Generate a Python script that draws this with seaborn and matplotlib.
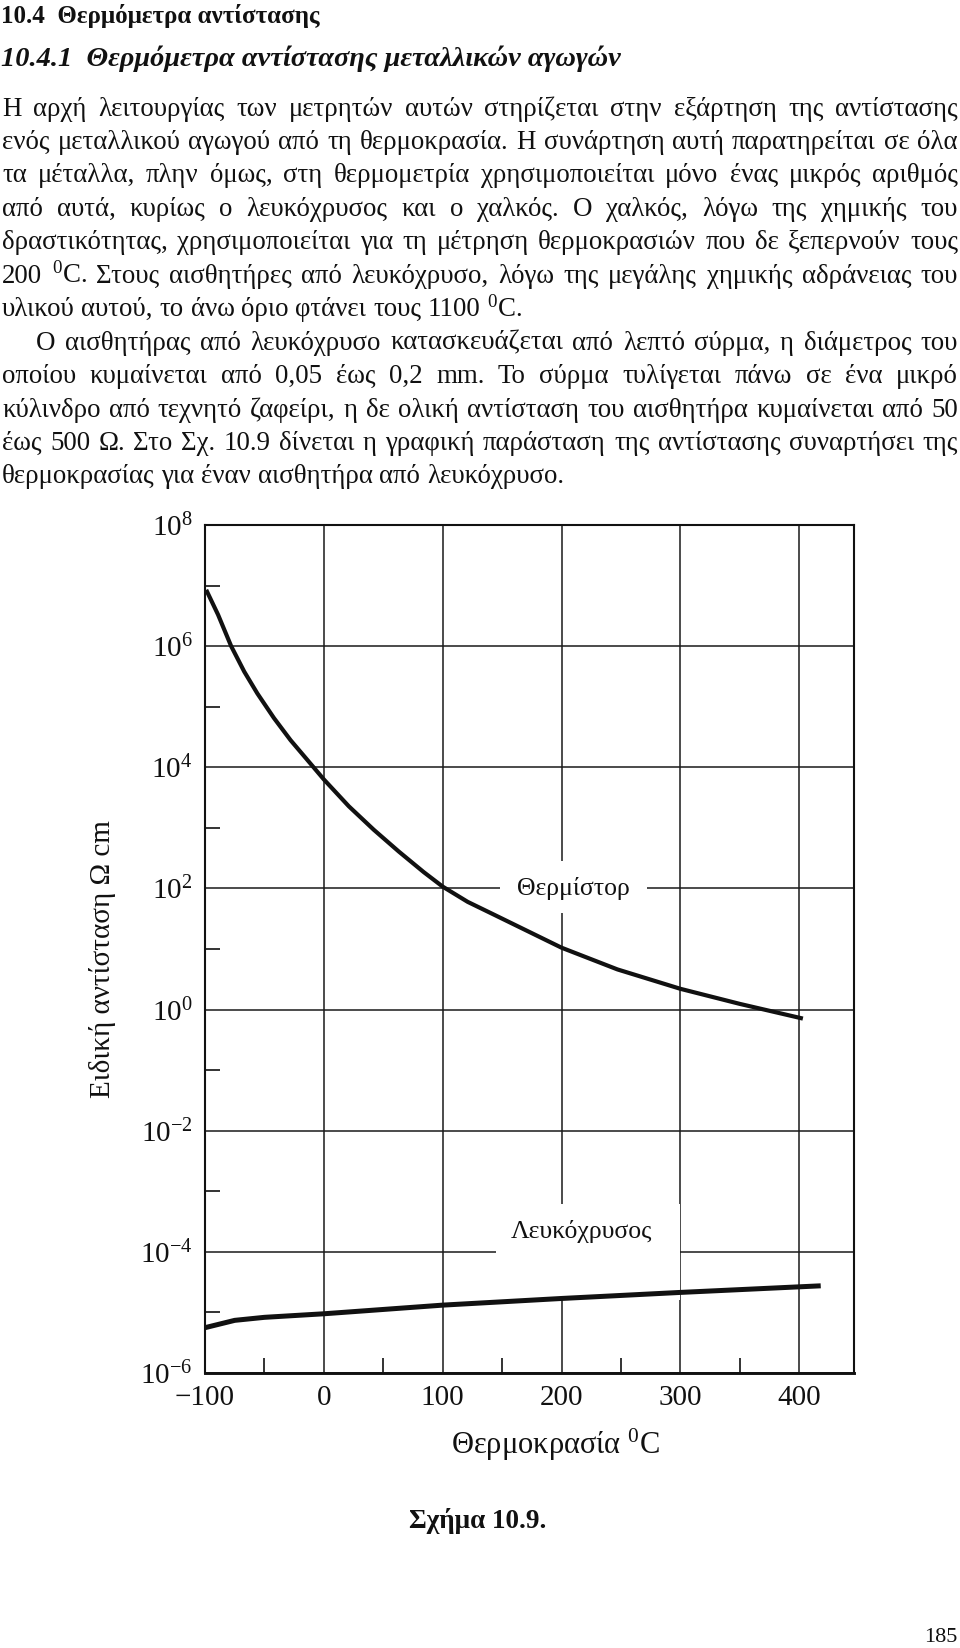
import numpy as np
import pandas as pd
import matplotlib
matplotlib.use("Agg")
import matplotlib.pyplot as plt
import seaborn as sns
from matplotlib.ticker import FixedLocator, NullFormatter, FixedFormatter
from matplotlib.patches import Rectangle

# ---------------- data ----------------
thermistor_temp = [-99, -89, -78, -67, -56, -42, -28, -14, 0, 21, 42, 63, 84, 100,
                   121, 143, 200, 247, 300, 350, 403]
thermistor_rho = [8.5e6, 3.3e6, 1.0e6, 3.8e5, 1.66e5, 6.5e4, 2.8e4, 1.33e4, 6.3e3, 2.27e3,
                  930, 407, 186, 107, 60, 37, 10.5, 4.6, 2.2, 1.24, 0.71]

platinum_temp = [-100, -75, -50, 0, 100, 200, 300, 418]
platinum_rho = [5.6e-6, 7.4e-6, 8.3e-6, 9.5e-6, 1.32e-5, 1.7e-5, 2.14e-5, 2.75e-5]

x_ticks = [-100, 0, 100, 200, 300, 400]
x_tick_labels = ["\u2212100", "0", "100", "200", "300", "400"]
x_minor = [-50, 50, 150, 250, 350]
y_exponents = [8, 6, 4, 2, 0, -2, -4, -6]
y_minor_exponents = [7, 5, 3, 1, -1, -3, -5]

heading1 = "10.4  Θερμόμετρα αντίστασης"
heading2 = "10.4.1  Θερμόμετρα αντίστασης μεταλλικών αγωγών"
body_lines = [
    ("Η αρχή λειτουργίας των μετρητών αυτών στηρίζεται στην εξάρτηση της αντίστασης", True, False),
    ("ενός μεταλλικού αγωγού από τη θερμοκρασία. Η συνάρτηση αυτή παρατηρείται σε όλα", True, False),
    ("τα μέταλλα, πλην όμως, στη θερμομετρία χρησιμοποιείται μόνο ένας μικρός αριθμός", True, False),
    ("από αυτά, κυρίως ο λευκόχρυσος και ο χαλκός. Ο χαλκός, λόγω της χημικής του", True, False),
    ("δραστικότητας, χρησιμοποιείται για τη μέτρηση θερμοκρασιών που δε ξεπερνούν τους", True, False),
    ("200 $^{0}$C. Στους αισθητήρες από λευκόχρυσο, λόγω της μεγάλης χημικής αδράνειας του", True, False),
    ("υλικού αυτού, το άνω όριο φτάνει τους 1100 $^{0}$C.", False, False),
    ("Ο αισθητήρας από λευκόχρυσο κατασκευάζεται από λεπτό σύρμα, η διάμετρος του", True, True),
    ("οποίου κυμαίνεται από 0,05 έως 0,2 mm. Το σύρμα τυλίγεται πάνω σε ένα μικρό", True, False),
    ("κύλινδρο από τεχνητό ζαφείρι, η δε ολική αντίσταση του αισθητήρα κυμαίνεται από 50", True, False),
    ("έως 500 Ω. Στο Σχ. 10.9 δίνεται η γραφική παράσταση της αντίστασης συναρτήσει της", True, False),
    ("θερμοκρασίας για έναν αισθητήρα από λευκόχρυσο.", False, False),
]
label_thermistor = "Θερμίστορ"
label_platinum = "Λευκόχρυσος"
x_label = "Θερμοκρασία $^{0}$C"
y_label = "Ειδική αντίσταση Ω cm"
caption = "Σχήμα 10.9."
page_number = "185"

# ---------------- style ----------------
sns.set_theme(style="white")
plt.rcParams["font.family"] = ["Liberation Serif", "DejaVu Serif"]
plt.rcParams["mathtext.fontset"] = "custom"
plt.rcParams["mathtext.rm"] = "Liberation Serif"
plt.rcParams["mathtext.it"] = "Liberation Serif:italic"
plt.rcParams["mathtext.bf"] = "Liberation Serif:bold"
plt.rcParams["mathtext.default"] = "regular"
plt.rcParams["axes.unicode_minus"] = True

INK = "#111111"
W, H = 960, 1648
fig = plt.figure(figsize=(W / 100, H / 100), dpi=100)
fig.patch.set_facecolor("white")
renderer = fig.canvas.get_renderer()


def fx(px):
    return px / W


def fy(py):
    return 1 - py / H


def text_width(s, size, **kw):
    t = fig.text(0, 0, s, fontsize=size, **kw)
    w = t.get_window_extent(renderer).width
    t.remove()
    return w


# ---------------- text block ----------------
body_size = 10 * 944 / text_width(body_lines[1][0], 10)
body_size = min(max(body_size, 15), 19.5)

h1_size = 18
h2_size = min(max(10 * 620 / text_width(heading2, 10, fontweight="bold", fontstyle="italic"), 15), 22)

fig.text(fx(1), fy(23), heading1, fontsize=h1_size, fontweight="bold", color=INK,
         ha="left", va="baseline")
fig.text(fx(1), fy(66), heading2, fontsize=h2_size, fontweight="bold", fontstyle="italic",
         color=INK, ha="left", va="baseline")

space_w = text_width("a a", body_size) - text_width("aa", body_size)
left_px, right_px = 2, 958
base0, step = 115.5, 33.45
for i, (line, justify, indent) in enumerate(body_lines):
    words = line.split(" ")
    objs = [fig.text(0, 0, w, fontsize=body_size, color=INK, ha="left", va="baseline")
            for w in words]
    widths = [o.get_window_extent(renderer).width for o in objs]
    x0 = left_px + (34 if indent else 0)
    if justify and len(words) > 1:
        gap = (right_px - x0 - sum(widths)) / (len(words) - 1)
        gap = max(gap, 0.3 * space_w)
    else:
        gap = space_w
    x = x0
    yb = base0 + step * i
    for o, w in zip(objs, widths):
        o.set_position((fx(x), fy(yb)))
        x += w + gap

# ---------------- chart ----------------
ax_left, ax_right, ax_top, ax_bottom = 205, 854, 525, 1373
ax = fig.add_axes([fx(ax_left), fy(ax_bottom), fx(ax_right - ax_left), (ax_bottom - ax_top) / H])
ax.set_facecolor("white")
ax.set_yscale("log")
ax.set_xlim(-100, 446)
ax.set_ylim(1e-6, 1e8)

df_t = pd.DataFrame({"temp": thermistor_temp, "rho": thermistor_rho})
df_p = pd.DataFrame({"temp": platinum_temp, "rho": platinum_rho})
sns.lineplot(data=df_t, x="temp", y="rho", ax=ax, color=INK, lw=3.0, estimator=None,
             sort=False, zorder=4, solid_capstyle="butt", solid_joinstyle="round")
sns.lineplot(data=df_p, x="temp", y="rho", ax=ax, color=INK, lw=3.6, estimator=None,
             sort=False, zorder=4, solid_capstyle="butt", solid_joinstyle="round")

# grid
ax.set_axisbelow(True)
ax.xaxis.set_major_locator(FixedLocator(x_ticks))
ax.xaxis.set_major_formatter(FixedFormatter(x_tick_labels))
ax.xaxis.set_minor_locator(FixedLocator(x_minor))
ax.xaxis.set_minor_formatter(NullFormatter())
y_major = [10.0 ** e for e in y_exponents]
ax.yaxis.set_major_locator(FixedLocator(y_major))
ax.yaxis.set_major_formatter(FixedFormatter([f"$10^{{{e}}}$".replace("-", "\u2212") for e in y_exponents]))
ax.yaxis.set_minor_locator(FixedLocator([10.0 ** e for e in y_minor_exponents]))
ax.yaxis.set_minor_formatter(NullFormatter())
ax.grid(True, which="major", color="#1a1a1a", lw=1.1)
ax.grid(False, which="minor")

# white masks where the gridlines are interrupted by the labels
ax.add_patch(Rectangle((148.5, 10 ** 1.6), 272 - 148.5, 10 ** 2.46 - 10 ** 1.6,
                       facecolor="white", edgecolor="none", zorder=1.5))
ax.add_patch(Rectangle((144.5, 10 ** -4.8), 299.2 - 144.5, 10 ** -3.21 - 10 ** -4.8,
                       facecolor="white", edgecolor="none", zorder=1.5))

ax.tick_params(axis="both", which="major", length=0, labelsize=21, colors=INK)
ax.tick_params(axis="both", which="minor", direction="in", length=10.5, width=1.2,
               color=INK, top=False, right=False, left=True, bottom=True)
ax.tick_params(axis="x", which="major", pad=8.5)
ax.tick_params(axis="y", which="major", pad=9)

for side, lw in [("left", 1.5), ("right", 1.5), ("top", 1.5), ("bottom", 2.1)]:
    ax.spines[side].set_visible(True)
    ax.spines[side].set_color(INK)
    ax.spines[side].set_linewidth(lw)

ax.text(210, 1e2, label_thermistor, fontsize=18.5, color=INK, ha="center", va="center", zorder=3)
ax.text(217, 10 ** -3.67, label_platinum, fontsize=18.5, color=INK, ha="center", va="center", zorder=3)

ax.set_xlabel(x_label, fontsize=22, color=INK)
ax.xaxis.set_label_coords((555 - ax_left) / (ax_right - ax_left), (ax_bottom - 1445) / (ax_bottom - ax_top))
ax.xaxis.label.set_va("center")
ax.set_ylabel(y_label, fontsize=21, color=INK)
ax.yaxis.set_label_coords((103 - ax_left) / (ax_right - ax_left), (ax_bottom - 959) / (ax_bottom - ax_top))
ax.yaxis.label.set_va("center")

fig.text(fx(478), fy(1521), caption, fontsize=19.5, fontweight="bold", color=INK,
         ha="center", va="center")
fig.text(fx(957), fy(1637), page_number, fontsize=16, color=INK, ha="right", va="center")

fig.savefig("out.png", dpi=100, facecolor="white")
